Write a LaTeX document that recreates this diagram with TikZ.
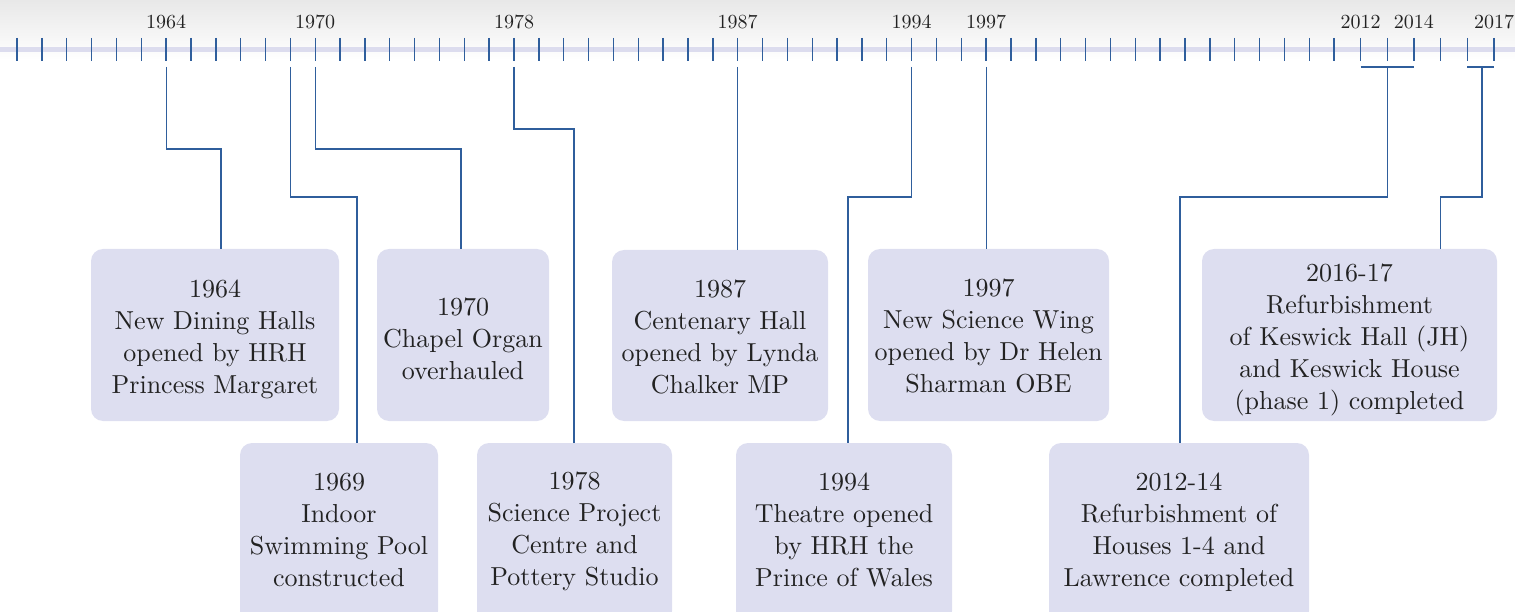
\documentclass[tikz,border=0pt]{standalone}
\usepackage{fontspec}
\setmainfont{lmroman10-regular.otf}
\usetikzlibrary{calc}
\definecolor{boxfill}{HTML}{DDDEF0}
\definecolor{linecol}{HTML}{2F5E9C}
\definecolor{bandcol}{HTML}{DCDCEE}
\definecolor{txtcol}{HTML}{222222}
\tikzset{
  evbox/.style={fill=boxfill, rounded corners=12pt, inner sep=0pt},
  evtext/.style={inner sep=0pt, align=center, text=txtcol, font=\fontsize{26}{32}\selectfont},
  conn/.style={draw=linecol, line width=1.1pt},
  tickln/.style={draw=linecol, line width=1.4pt},
  yearlbl/.style={text=txtcol, font=\fontsize{20}{22}\selectfont, inner sep=0pt},
}
\begin{document}
\begin{tikzpicture}[x=1pt,y=-1pt]
\useasboundingbox (0,0) rectangle (1515,612);
\clip (0,0) rectangle (1515,612);
\shade[top color=black!9, bottom color=white] (0,0) rectangle (1515,60);
\fill[bandcol] (0,47) rectangle (1515,52);
% ticks
\foreach \yr in {1958,...,2017}{
  \pgfmathsetmacro{\xx}{\yr<2012 ? 17+(\yr-1958)*24.85 : 1360.5+(\yr-2012)*26.7}
  \draw[tickln] (\xx,38) -- (\xx,61);
  \coordinate (t\yr) at (\xx,67);
}
% year labels
\foreach \yr in {1964,1970,1978,1987,1994,1997,2012,2014,2017}{
  \node[yearlbl] (lab\yr) at ($(t\yr)+(0,-45)$) {\yr};
}
% boxes, upper row
\node[evbox, minimum width=248pt, minimum height=172pt] (b1964) at (215,335) {};
\node[evbox, minimum width=172pt, minimum height=172pt] (b1970) at (463,335) {};
\node[evbox, minimum width=216pt, minimum height=171pt] (b1987) at (720,335.5) {};
\node[evbox, minimum width=241pt, minimum height=172pt] (b1997) at (988.5,335) {};
\node[evbox, minimum width=295pt, minimum height=172pt] (b2016) at (1349.5,335) {};
% boxes, lower row
\node[evbox, minimum width=198pt, minimum height=180pt] (b1969) at (339,533) {};
\node[evbox, minimum width=195pt, minimum height=180pt] (b1978) at (574.5,533) {};
\node[evbox, minimum width=216pt, minimum height=180pt] (b1994) at (844,533) {};
\node[evbox, minimum width=260pt, minimum height=180pt] (b2012) at (1179,533) {};
% texts
\node[evtext] (x1964) at ($(b1964.center)+(0,4.5)$)
  {1964\\New Dining Halls\\opened by HRH\\Princess Margaret};
\node[evtext] (x1970) at ($(b1970.center)+(0,4)$)
  {1970\\Chapel Organ\\overhauled};
\node[evtext] (x1987) at ($(b1987.center)+(0,1)$)
  {1987\\Centenary Hall\\opened by Lynda\\Chalker MP};
\node[evtext] (x1997) at ($(b1997.center)+(0,0.5)$)
  {1997\\New Science Wing\\opened by Dr Helen\\Sharman OBE};
\node[evtext] (x2016) at ($(b2016.center)+(0,5)$)
  {2016-17\\Refurbishment\\of Keswick Hall (JH)\\and Keswick House\\(phase 1) completed};
\node[evtext] (x1969) at ($(b1969.center)+(0,-3)$)
  {1969\\Indoor\\Swimming Pool\\constructed};
\node[evtext] (x1978) at ($(b1978.center)+(0,-2)$)
  {1978\\Science Project\\Centre and\\Pottery Studio};
\node[evtext] (x1994) at ($(b1994.center)+(0,-3)$)
  {1994\\Theatre opened\\by HRH the\\Prince of Wales};
\node[evtext] (x2012) at ($(b2012.center)+(0,-1)$)
  {2012-14\\Refurbishment of\\Houses 1-4 and\\Lawrence completed};
% connectors
\coordinate (k1964) at (221,149);
\draw[conn] (t1964) |- (k1964) -- (k1964 |- b1964.north);
\coordinate (k1969) at (357,197);
\draw[conn] (t1969) |- (k1969) -- (k1969 |- b1969.north);
\coordinate (k1970) at (461,149);
\draw[conn] (t1970) |- (k1970) -- (k1970 |- b1970.north);
\coordinate (k1978) at (574,129);
\draw[conn] (t1978) |- (k1978) -- (k1978 |- b1978.north);
\draw[conn] (t1987) -- (t1987 |- b1987.north);
\coordinate (k1994) at (848,197);
\draw[conn] (t1994) |- (k1994) -- (k1994 |- b1994.north);
\draw[conn] (t1997) -- (t1997 |- b1997.north);
% brackets
\draw[conn] (t2012) -- (t2014);
\coordinate (m2012) at ($(t2012)!0.5!(t2014)$);
\coordinate (k2012) at (1180,197);
\draw[conn] (m2012) |- (k2012) -- (k2012 |- b2012.north);
\draw[conn] (t2016) -- (t2017);
\coordinate (m2016) at ($(t2016)!0.55!(t2017)$);
\coordinate (k2016) at (1440.7,197);
\draw[conn] (m2016) |- (k2016) -- (k2016 |- b2016.north);
\end{tikzpicture}
\end{document}
